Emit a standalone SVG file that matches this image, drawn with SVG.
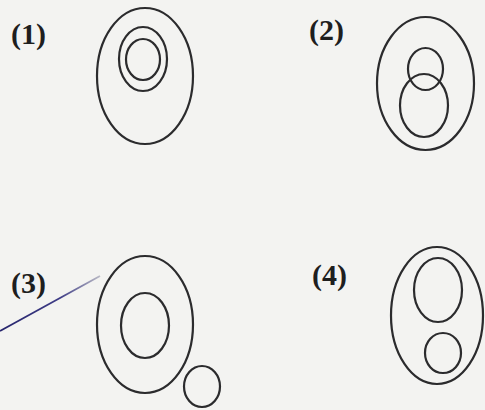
<svg xmlns="http://www.w3.org/2000/svg" width="485" height="410" viewBox="0 0 485 410">
<style>
.c{fill:none;stroke:#2b2b2d;stroke-width:2.2}
.t{font-family:"Liberation Serif",serif;font-weight:bold;font-size:30px;fill:#1e1e1e}
</style>
<defs>
<linearGradient id="g" gradientUnits="userSpaceOnUse" x1="0" y1="331" x2="100" y2="276">
<stop offset="0" stop-color="#26246c"/>
<stop offset="0.6" stop-color="#3e3c86"/>
<stop offset="1" stop-color="#b8b8c4"/>
</linearGradient>
</defs>
<rect width="485" height="410" fill="#f3f3f1"/>
<g id="d1">
<text class="t" x="11" y="44">(1)</text>
<ellipse class="c" cx="145" cy="76" rx="48" ry="68"/>
<ellipse class="c" cx="143" cy="59" rx="24" ry="32"/>
<ellipse class="c" cx="143" cy="59.5" rx="17" ry="20.5"/>
</g>
<g id="d2">
<text class="t" x="309" y="40">(2)</text>
<ellipse class="c" cx="425.5" cy="83.5" rx="48.5" ry="66.5"/>
<ellipse class="c" cx="425.5" cy="69" rx="17.5" ry="21"/>
<ellipse class="c" cx="424" cy="105.5" rx="24" ry="31.5"/>
</g>
<g id="d3">
<text class="t" x="11" y="293">(3)</text>
<ellipse class="c" cx="145" cy="324.5" rx="48" ry="68.5"/>
<ellipse class="c" cx="145" cy="325.5" rx="24" ry="32.5"/>
<ellipse class="c" cx="202" cy="386.5" rx="18" ry="20.5"/>
</g>
<g id="d4">
<text class="t" x="312" y="285">(4)</text>
<ellipse class="c" cx="437" cy="315.5" rx="46" ry="68.5"/>
<ellipse class="c" cx="438" cy="290" rx="24" ry="32"/>
<ellipse class="c" cx="443" cy="353" rx="18" ry="20"/>
</g>
<g id="connectors">
<line x1="0" y1="331" x2="100" y2="276" stroke="url(#g)" stroke-width="1.8"/>
</g>
</svg>
